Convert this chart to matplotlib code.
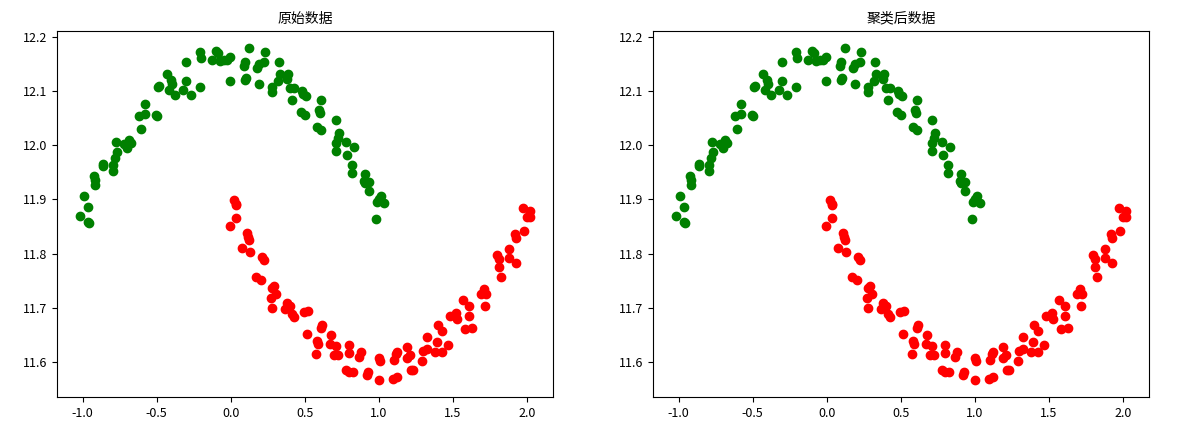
import numpy as np
import matplotlib
matplotlib.use('Agg')
import matplotlib.pyplot as plt

plt.rcParams['font.family'] = ['Noto Sans CJK SC', 'DejaVu Sans']
plt.rcParams['axes.unicode_minus'] = False

# 上方月牙（绿色）
green_x = [-1.021, -0.963, -0.960, -0.967, -0.988, -0.918, -0.918, -0.925, -0.864, -0.864,
           -0.797, -0.797, -0.783, -0.765, -0.772, -0.703, -0.685, -0.671, -0.700, -0.718,
           -0.606, -0.617, -0.579, -0.579, -0.505, -0.496, -0.494, -0.487, -0.429, -0.402,
           -0.397, -0.415, -0.377, -0.323, -0.303, -0.303, -0.265, -0.207, -0.209, -0.198,
           -0.123, -0.101, -0.088, -0.070, -0.045, -0.022, -0.007, 0.123, 0.231, 0.224,
           0.191, 0.180, 0.097, 0.090, -0.007, 0.106, 0.097, 0.191, 0.276, 0.281,
           0.325, 0.332, 0.321, 0.388, 0.382, 0.404, 0.429, 0.411, 0.483, 0.489,
           0.510, 0.608, 0.597, 0.604, 0.478, 0.505, 0.586, 0.608, 0.714, 0.734,
           0.725, 0.712, 0.714, 0.779, 0.833, 0.788, 0.819, 0.819, 0.905, 0.898,
           0.905, 0.932, 0.932, 0.988, 1.015, 1.033, 0.999, 0.983]
green_y = [11.870, 11.859, 11.857, 11.886, 11.907, 11.926, 11.935, 11.943, 11.966, 11.962,
           11.952, 11.964, 11.976, 11.988, 12.006, 12.000, 12.009, 12.004, 11.995, 12.003,
           12.029, 12.054, 12.058, 12.076, 12.056, 12.053, 12.107, 12.110, 12.132, 12.120,
           12.112, 12.101, 12.092, 12.102, 12.119, 12.154, 12.093, 12.107, 12.172, 12.160,
           12.158, 12.173, 12.171, 12.155, 12.158, 12.158, 12.163, 12.180, 12.172, 12.154,
           12.149, 12.142, 12.154, 12.147, 12.118, 12.124, 12.121, 12.113, 12.108, 12.099,
           12.154, 12.132, 12.119, 12.132, 12.123, 12.106, 12.105, 12.083, 12.100, 12.094,
           12.091, 12.083, 12.065, 12.060, 12.062, 12.055, 12.034, 12.028, 12.046, 12.022,
           12.014, 12.004, 11.990, 12.006, 11.997, 11.981, 11.963, 11.949, 11.946, 11.934,
           11.931, 11.932, 11.916, 11.895, 11.906, 11.893, 11.901, 11.864]

# 下方月牙（红色）
red_x = [0.022, 0.034, 0.038, 0.034, -0.007, 0.112, 0.117, 0.123, 0.079, 0.132,
         0.213, 0.224, 0.168, 0.204, 0.292, 0.276, 0.303, 0.272, 0.281, 0.382,
         0.404, 0.370, 0.415, 0.429, 0.494, 0.519, 0.514, 0.617, 0.608, 0.584,
         0.591, 0.575, 0.680, 0.673, 0.712, 0.696, 0.725, 0.797, 0.797, 0.779,
         0.797, 0.824, 0.882, 0.869, 0.927, 0.921, 0.999, 1.012, 0.999, 1.095,
         1.122, 1.100, 1.118, 1.122, 1.194, 1.190, 1.212, 1.219, 1.230, 1.293,
         1.297, 1.324, 1.328, 1.380, 1.425, 1.396, 1.398, 1.425, 1.468, 1.481,
         1.522, 1.526, 1.571, 1.612, 1.612, 1.585, 1.632, 1.690, 1.713, 1.728,
         1.717, 1.800, 1.814, 1.811, 1.829, 1.881, 1.883, 1.926, 1.919, 1.926,
         1.980, 1.975, 2.020, 2.002, 2.025]
red_y = [11.899, 11.892, 11.889, 11.866, 11.850, 11.838, 11.830, 11.825, 11.811, 11.803,
         11.794, 11.788, 11.757, 11.751, 11.741, 11.737, 11.726, 11.718, 11.700, 11.709,
         11.704, 11.697, 11.689, 11.683, 11.692, 11.694, 11.652, 11.668, 11.663, 11.638,
         11.633, 11.614, 11.649, 11.633, 11.630, 11.612, 11.613, 11.632, 11.616, 11.585,
         11.581, 11.582, 11.618, 11.610, 11.582, 11.576, 11.608, 11.601, 11.566, 11.569,
         11.572, 11.604, 11.615, 11.618, 11.627, 11.608, 11.612, 11.585, 11.585, 11.601,
         11.620, 11.624, 11.646, 11.618, 11.618, 11.636, 11.668, 11.657, 11.631, 11.684,
         11.691, 11.680, 11.715, 11.704, 11.685, 11.660, 11.662, 11.726, 11.735, 11.725,
         11.704, 11.798, 11.790, 11.776, 11.757, 11.808, 11.791, 11.783, 11.837, 11.828,
         11.842, 11.884, 11.879, 11.868, 11.868]

titles = ['原始数据', '聚类后数据']

fig = plt.figure(figsize=(11.86, 4.28), dpi=100)
ax1 = fig.add_axes([57/1186, 31/428, 496/1186, 366/428])
ax2 = fig.add_axes([653/1186, 31/428, 496/1186, 366/428])

for ax, t in zip([ax1, ax2], titles):
    ax.scatter(green_x, green_y, c='green')
    ax.scatter(red_x, red_y, c='red')
    ax.set_title(t, fontsize=10)
    ax.set_yticks([11.6, 11.7, 11.8, 11.9, 12.0, 12.1, 12.2])
    ax.tick_params(labelsize=9)

fig.savefig('out.png', dpi=100)
